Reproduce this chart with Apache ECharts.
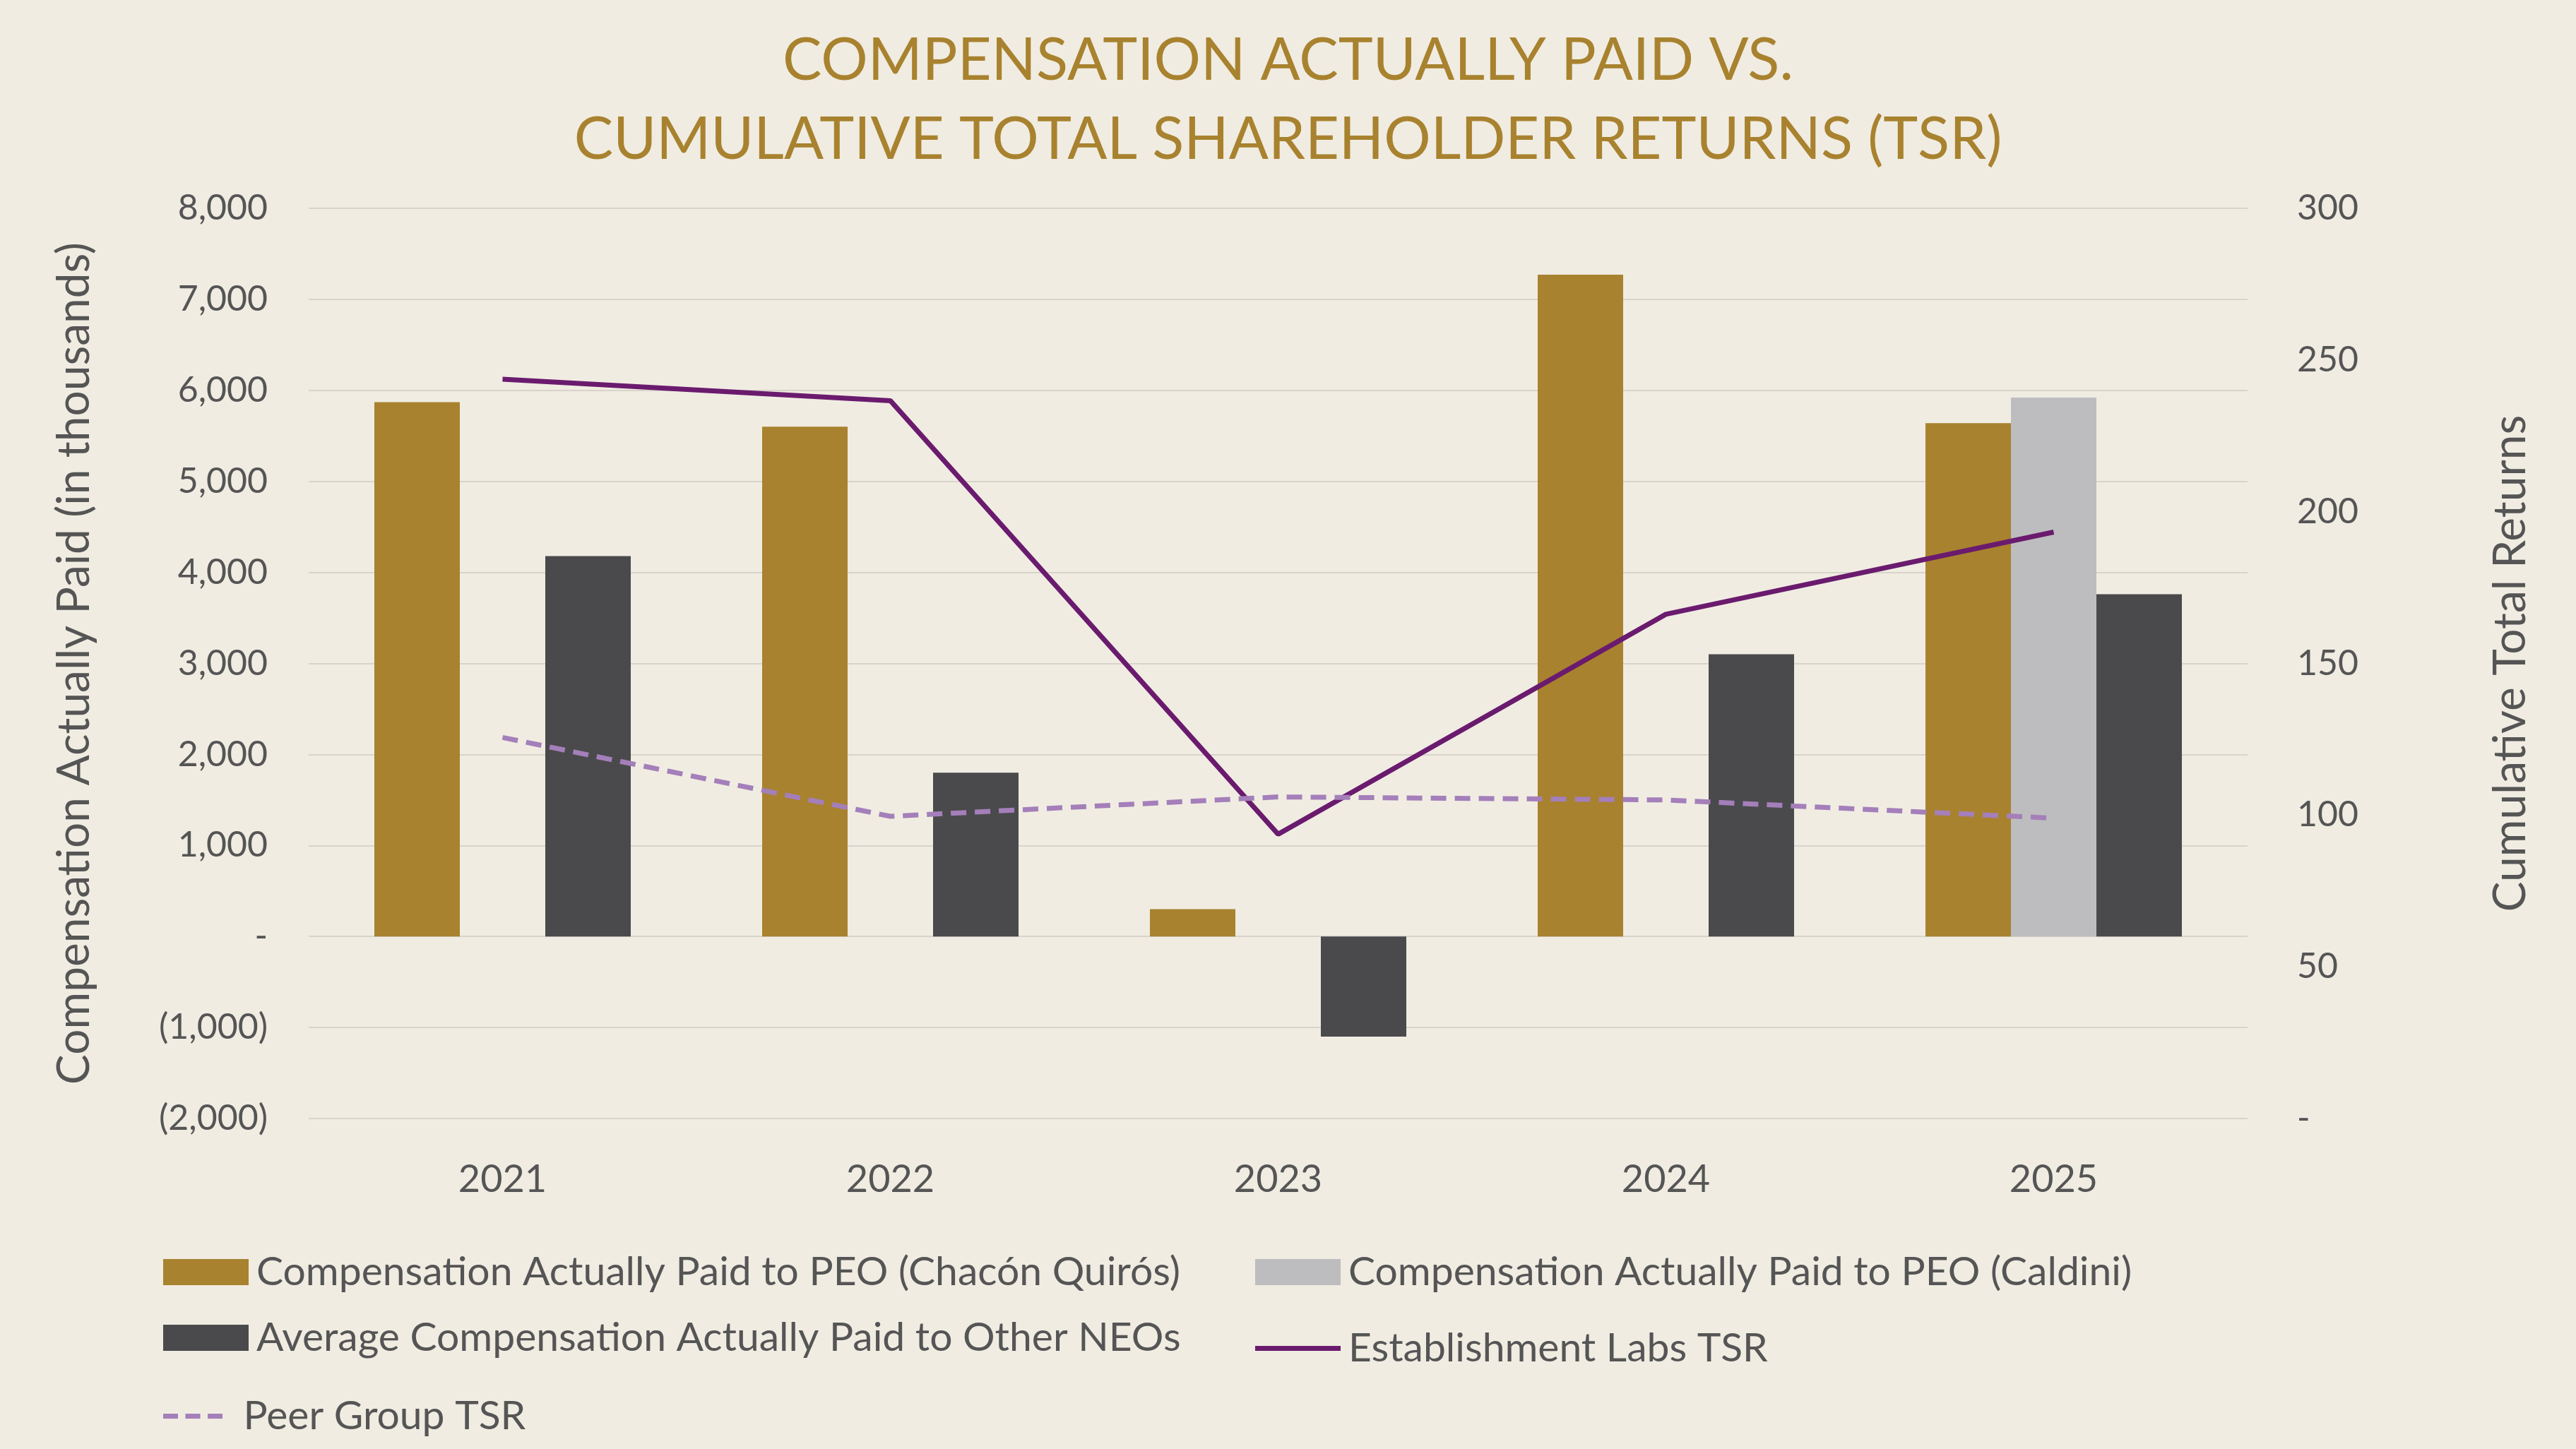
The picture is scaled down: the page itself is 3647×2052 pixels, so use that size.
<!DOCTYPE html>
<html><head><meta charset="utf-8">
<script src="https://cdn.jsdelivr.net/npm/echarts@6/dist/echarts.min.js"></script>
<style>html,body{margin:0;padding:0;background:#F0ECE2}#c{width:3647px;height:2052px}</style>
</head><body><div id="c"></div>
<script>
const years = ['2021','2022','2023','2024','2025'];
const peoChacon = [5870, 5600, 300, 7270, 5640];
const peoCaldini = [null, null, null, null, 5920];
const otherNeos = [4180, 1800, -1100, 3100, 3760];
const estTSR = [243.7, 236.6, 93.7, 166.2, 193.3];
const peerTSR = [125.6, 99.6, 106, 105, 99];
const names = ['Compensation Actually Paid to PEO (Chacón Quirós)','Compensation Actually Paid to PEO (Caldini)','Average Compensation Actually Paid to Other NEOs','Establishment Labs TSR','Peer Group TSR'];
const FONT = 'Lato, "Open Sans", sans-serif';
const txt = '#555555';
function fmtL(v){ if(v===0) return '-'; const s=Math.abs(v).toLocaleString('en-US'); return v<0?'('+s+')':s; }
const ch = echarts.init(document.getElementById('c'));
const legPos = [[226,1768],[1772,1768],[226,1861],[1772,1861],[226,1957]];
const icons = ['rect','rect','rect','rect','path://M0,0h3v1h-3zM4.5,0h3v1h-3zM9,0h3v1h-3z'];
ch.setOption({
  backgroundColor:'#F0ECE2',
  textStyle:{fontFamily:FONT},
  title:{text:'COMPENSATION ACTUALLY PAID VS.\nCUMULATIVE TOTAL SHAREHOLDER RETURNS (TSR)',left:'center',top:25,
    textStyle:{color:'#A8822E',fontSize:83,fontWeight:'normal',lineHeight:112,fontFamily:FONT}},
  legend: names.map((n,i)=>({data:[{name:n,icon:icons[i]}],left:legPos[i][0],top:legPos[i][1]+(i>=3?15:0),itemWidth:121,itemHeight:i>=3?7:37,itemGap:0,
    textStyle:{color:txt,fontSize:57,fontFamily:FONT,padding:[0,0,0,6]}})),
  grid:{left:437,right:465,top:295,bottom:468},
  xAxis:{type:'category',data:years,axisTick:{show:false},axisLine:{show:false},
    axisLabel:{color:txt,fontSize:54,margin:60}},
  yAxis:[{type:'value',min:-2000,max:8000,interval:1000,
      name:'Compensation Actually Paid (in thousands)',nameLocation:'middle',nameGap:300,nameRotate:90,
      nameTextStyle:{color:txt,fontSize:64},
      axisLabel:{color:txt,fontSize:50,margin:58,formatter:fmtL},
      splitLine:{lineStyle:{color:'#D8D4CB',width:2}}},
    {type:'value',min:0,max:300,interval:50,
      name:'Cumulative Total Returns',nameLocation:'middle',nameGap:340,nameRotate:90,
      nameTextStyle:{color:txt,fontSize:64},
      axisLabel:{color:txt,fontSize:50,margin:70,formatter:v=>v===0?'-':String(v)},
      splitLine:{show:false}}],
  series:[
    {name:names[0],type:'bar',data:peoChacon,barWidth:121,barGap:'0%',itemStyle:{color:'#A8822E'}},
    {name:names[1],type:'bar',data:peoCaldini,barWidth:121,barGap:'0%',itemStyle:{color:'#BDBDBF'}},
    {name:names[2],type:'bar',data:otherNeos,barWidth:121,barGap:'0%',itemStyle:{color:'#4A4A4C'}},
    {name:names[3],type:'line',yAxisIndex:1,data:estTSR,symbol:'none',lineStyle:{color:'#6A1B6E',width:7},itemStyle:{color:'#6A1B6E'}},
    {name:names[4],type:'line',yAxisIndex:1,data:peerTSR,symbol:'none',lineStyle:{color:'#A47FBA',width:7,type:[22,12]},itemStyle:{color:'#A47FBA'}}
  ]
});
</script></body></html>
